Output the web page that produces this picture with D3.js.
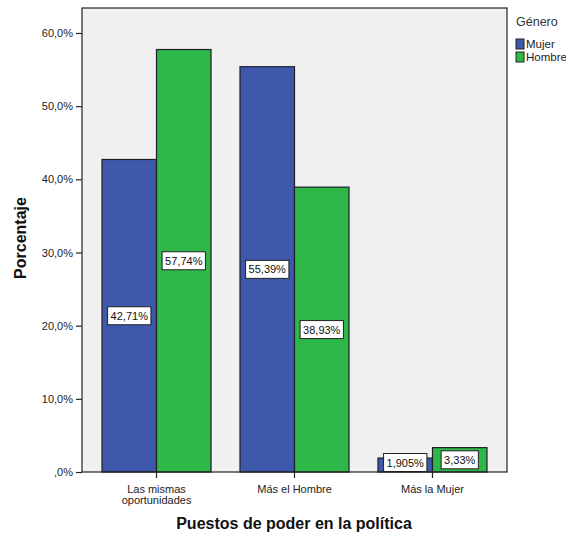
<!DOCTYPE html>
<html><head><meta charset="utf-8">
<script src="https://cdn.jsdelivr.net/npm/d3@7"></script>
<style>body{margin:0;background:#fff}svg{display:block}text{font-family:Arial,"Liberation Sans",sans-serif}</style>
</head><body>
<script>
const categories = ["Las mismas oportunidades", "Más el Hombre", "Más la Mujer"];
const categoryLines = [["Las mismas", "oportunidades"], ["Más el Hombre"], ["Más la Mujer"]];
const seriesNames = ["Mujer", "Hombre"];
const mujer = [42.71, 55.39, 1.905];
const hombre = [57.74, 38.93, 3.33];
const labelsMujer = ["42,71%", "55,39%", "1,905%"];
const labelsHombre = ["57,74%", "38,93%", "3,33%"];
const yTicks = [0, 10, 20, 30, 40, 50, 60];
const yTickLabels = [",0%", "10,0%", "20,0%", "30,0%", "40,0%", "50,0%", "60,0%"];
const colors = ["#3e58ac", "#2eb848"];

const W = 566, H = 535;
const L = 82, R = 507, T = 8, B = 472;
const svg = d3.select("body").append("svg").attr("width", W).attr("height", H);

const y = d3.scaleLinear().domain([0, 60]).range([B, B - 6 * 73.17]);
const x0 = d3.scaleBand().domain(categories).range([L, R]).paddingInner(0.21).paddingOuter(0.145);
const x1 = d3.scaleBand().domain(seriesNames).range([0, x0.bandwidth()]);

svg.append("rect").attr("x", L).attr("y", T).attr("width", R - L).attr("height", B - T)
  .attr("fill", "#f0f0f0").attr("stroke", "none");

const data = categories.map((c, i) => ({c, vals: [
  {s: "Mujer", v: mujer[i], lab: labelsMujer[i], col: colors[0]},
  {s: "Hombre", v: hombre[i], lab: labelsHombre[i], col: colors[1]}]}));

const g = svg.selectAll("g.cat").data(data).join("g").attr("class", "cat")
  .attr("transform", d => `translate(${x0(d.c)},0)`);
g.selectAll("rect").data(d => d.vals).join("rect")
  .attr("x", d => x1(d.s)).attr("y", d => y(d.v))
  .attr("width", x1.bandwidth()).attr("height", d => B - y(d.v))
  .attr("fill", d => d.col).attr("stroke", "#1e1e28").attr("stroke-width", 1.2);

// frame
svg.append("rect").attr("x", L).attr("y", T).attr("width", R - L).attr("height", B - T)
  .attr("fill", "none").attr("stroke", "#222").attr("stroke-width", 1.2);

// labels
const bh = 18;
g.selectAll("g.lab").data(d => d.vals).join("g").attr("class", "lab").each(function(d) {
  const gg = d3.select(this);
  const cx = x1(d.s) + x1.bandwidth() / 2;
  let cy = (y(d.v) + B) / 2;
  cy = Math.min(cy, B - bh / 2 - 0.5);
  const t = gg.append("text").attr("x", cx).attr("y", cy + 4).attr("text-anchor", "middle")
    .attr("font-size", 11).attr("fill", "#111").text(d.lab);
  const w = t.node().getComputedTextLength() + 6;
  gg.insert("rect", "text").attr("x", cx - w / 2).attr("y", cy - bh / 2).attr("width", w).attr("height", bh)
    .attr("fill", "#fff").attr("stroke", "#222").attr("stroke-width", 1);
});

// y axis
const ya = svg.append("g").attr("transform", `translate(${L},0)`)
  .call(d3.axisLeft(y).tickValues(yTicks).tickSize(6).tickFormat((d, i) => yTickLabels[i]));
ya.select(".domain").remove();
ya.selectAll("line").attr("stroke", "#222").attr("stroke-width", 1.2);
ya.selectAll("text").attr("font-size", 11).attr("fill", "#222").attr("x", -9)
  .style("font-family", "Arial, 'Liberation Sans', sans-serif");

// x axis
const xa = svg.append("g").attr("transform", `translate(0,${B})`)
  .call(d3.axisBottom(x0).tickSize(6).tickFormat(""));
xa.select(".domain").remove();
xa.selectAll("line").attr("stroke", "#222").attr("stroke-width", 1.2);
xa.selectAll(".tick").each(function(d, i) {
  const t = d3.select(this).append("text").attr("text-anchor", "middle").attr("font-size", 11)
    .attr("fill", "#222").style("font-family", "Arial, 'Liberation Sans', sans-serif");
  categoryLines[i].forEach((ln, j) => t.append("tspan").attr("x", 0).attr("y", 21 + j * 11).text(ln));
});

// titles
svg.append("text").attr("x", 294).attr("y", 529).attr("text-anchor", "middle")
  .attr("font-size", 16).attr("font-weight", "bold").attr("fill", "#111")
  .text("Puestos de poder en la política");
svg.append("text").attr("transform", `translate(26,238) rotate(-90)`).attr("text-anchor", "middle")
  .attr("font-size", 16).attr("font-weight", "bold").attr("fill", "#111").text("Porcentaje");

// legend
const lg = svg.append("g");
lg.append("text").attr("x", 516).attr("y", 26).attr("font-size", 12.5).attr("fill", "#333").text("Género");
seriesNames.forEach((s, i) => {
  lg.append("rect").attr("x", 516).attr("y", 39 + i * 13).attr("width", 8).attr("height", 10)
    .attr("fill", colors[i]).attr("stroke", "#222").attr("stroke-width", 1);
  lg.append("text").attr("x", 526).attr("y", 48 + i * 13).attr("font-size", 11.5).attr("fill", "#222").text(s);
});
</script>
</body></html>
